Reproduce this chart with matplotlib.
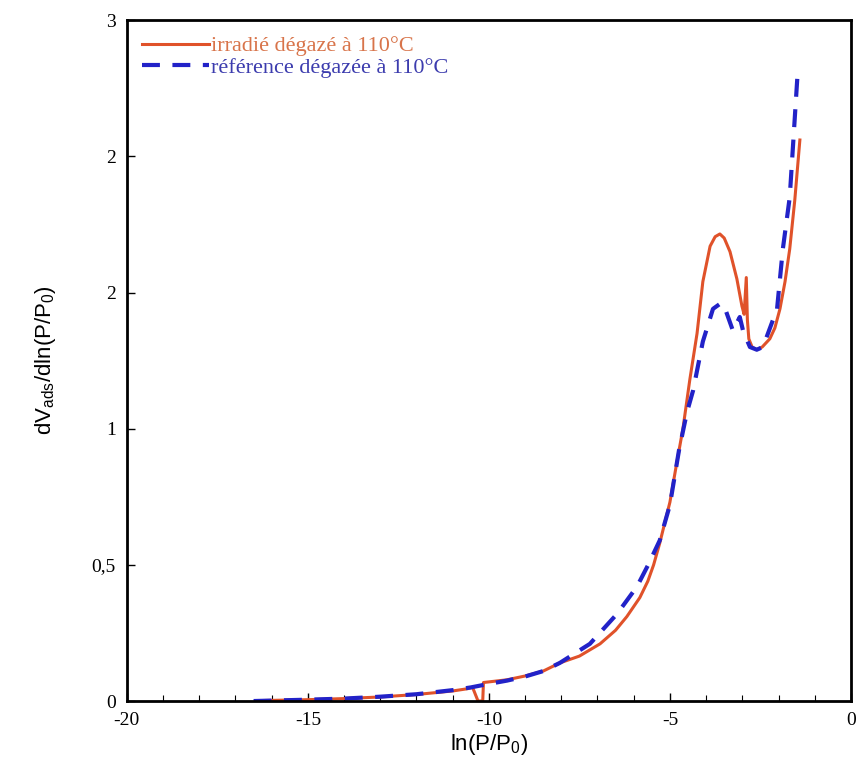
import numpy as np
import matplotlib.pyplot as plt

# irradiated sample, degassed at 110 C
x_irr = [-16.2, -15, -14, -13, -12, -11, -10.6, -10.45, -10.30, -10.17, -10.15,
         -9.5, -9, -8.5, -8.04, -7.5, -6.93, -6.5, -6.19, -5.83, -5.61, -5.45,
         -5.28, -5.15, -5.0, -4.83, -4.64, -4.45, -4.25, -4.09, -3.89, -3.75,
         -3.62, -3.5, -3.34, -3.15, -3.01, -2.95, -2.89, -2.86, -2.82, -2.73,
         -2.60, -2.45, -2.24, -2.1, -1.96, -1.82, -1.69, -1.55, -1.41]
y_irr = [0.002, 0.005, 0.009, 0.015, 0.024, 0.037, 0.045, 0.05, 0.0, 0.0, 0.068,
         0.078, 0.092, 0.11, 0.14, 0.165, 0.21, 0.26, 0.31, 0.38, 0.44, 0.50,
         0.58, 0.65, 0.73, 0.86, 1.0, 1.18, 1.35, 1.54, 1.67, 1.705,
         1.715, 1.70, 1.65, 1.55, 1.45, 1.42, 1.555, 1.40, 1.33, 1.30,
         1.29, 1.30, 1.33, 1.37, 1.44, 1.54, 1.66, 1.84, 2.06]

# reference sample, degassed at 110 C
x_ref = [-16.5, -15, -14, -13, -12, -11, -10.5, -10, -9.5, -9, -8.5, -8.04,
         -7.21, -6.46, -5.91, -5.6, -5.28, -5.0, -4.75, -4.53, -4.36, -4.09, -3.81,
         -3.6, -3.5, -3.26, -3.07, -2.98, -2.79, -2.6, -2.43, -2.04, -1.88,
         -1.74, -1.69, -1.47]
y_ref = [0.0, 0.005, 0.009, 0.016, 0.025, 0.04, 0.05, 0.063, 0.075, 0.09, 0.11, 0.14,
         0.21, 0.32, 0.42, 0.50, 0.59, 0.72, 0.92, 1.06, 1.14, 1.32, 1.44,
         1.46, 1.45, 1.36, 1.41, 1.36, 1.30, 1.29, 1.30, 1.44, 1.66,
         1.80, 1.85, 2.31]

labels = ['irradié dégazé à 110°C', 'référence dégazée à 110°C']
ytick_vals = [0, 0.5, 1, 1.5, 2, 2.5]
ytick_labels = ['0', '0,5', '1', '2', '2', '3']
xtick_vals = [-20, -15, -10, -5, 0]

red = '#e0522a'
blue = '#2222c8'

plt.rcParams['mathtext.default'] = 'regular'
plt.rcParams['axes.unicode_minus'] = False

fig = plt.figure(figsize=(8.63, 7.76), dpi=100)
ax = fig.add_axes([0.147, 0.0966, 0.839, 0.8774])

ax.plot(x_irr, y_irr, color=red, lw=2.2, label=labels[0])
ax.plot(x_ref, y_ref, color=blue, lw=3, ls=(0, (4.3, 3)), label=labels[1])

ax.set_xlim(-20, 0)
ax.set_ylim(0, 2.5)
ax.set_xticks(xtick_vals)
ax.set_xticks(np.arange(-20, 1, 1), minor=True)
ax.set_yticks(ytick_vals)
ax.set_yticklabels(ytick_labels)
ax.tick_params(direction='in', length=6, width=1, labelsize=14, pad=8)
ax.tick_params(which='minor', direction='in', length=4, width=0.8)
for lab in ax.get_xticklabels() + ax.get_yticklabels():
    lab.set_family('Liberation Serif')
for s in ax.spines.values():
    s.set_linewidth(2)

ax.set_xlabel('ln(P/P$_0$)', fontsize=16, family='Liberation Sans', labelpad=2)
ax.set_ylabel('dV$_{ads}$/dln(P/P$_0$)', fontsize=16, family='Liberation Sans', labelpad=24)

leg = ax.legend(loc='upper left', frameon=False, handlelength=3.0, handletextpad=0.1,
                labelspacing=0.05, borderaxespad=0.3,
                prop={'family': 'Liberation Serif', 'size': 16})
leg.get_texts()[0].set_color('#d8744a')
leg.get_texts()[1].set_color('#3c3cae')

plt.savefig('out.png', dpi=100)
